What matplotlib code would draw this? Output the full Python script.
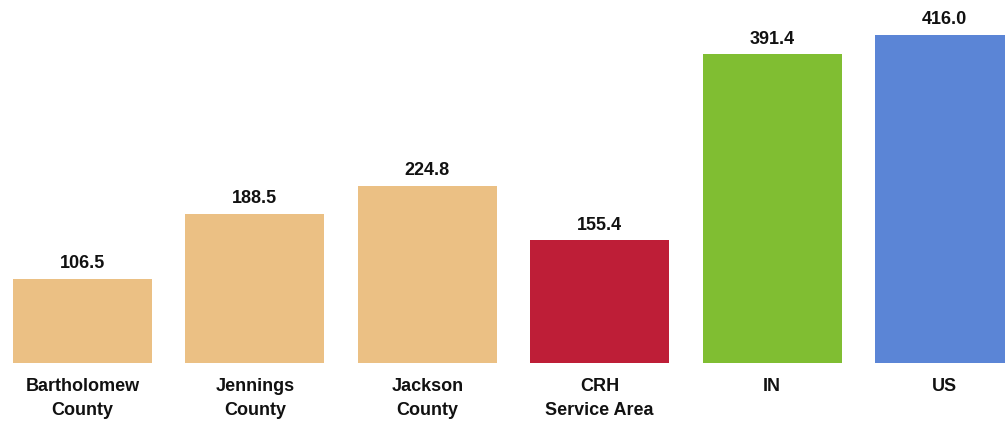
import matplotlib
matplotlib.use("Agg")
import matplotlib.pyplot as plt
from matplotlib import font_manager

categories = ["Bartholomew\nCounty", "Jennings\nCounty", "Jackson\nCounty", "CRH\nService Area", "IN", "US"]
values = [106.5, 188.5, 224.8, 155.4, 391.4, 416.0]
colors = ["#EBC084", "#EBC084", "#EBC084", "#BE1E37", "#80BE32", "#5B85D6"]

names = {f.name for f in font_manager.fontManager.ttflist}
fam = ["Liberation Sans Narrow", "Liberation Sans", "DejaVu Sans"]
fam = [f for f in fam if f in names] or ["DejaVu Sans"]
plt.rcParams["font.family"] = fam

fig = plt.figure(figsize=(10.05, 4.21), dpi=100)
ax = fig.add_axes([0, 0.1378, 1, 0.8622])
x = list(range(len(values)))
bars = ax.bar(x, values, width=0.806, color=colors)
for xi, v in zip(x, values):
    ax.annotate(f"{v:.1f}", (xi, v), xytext=(0, 5), textcoords="offset points",
                ha="center", va="bottom", fontsize=13, fontweight="bold", color="#111111")
ax.set_xlim(-0.4785, 5.351)
ax.set_ylim(0, 460.5)
ax.set_xticks(x)
ax.set_xticklabels(categories, fontsize=13, fontweight="bold", linespacing=1.55, color="#111111")
ax.tick_params(axis="x", length=0, pad=11)
ax.set_yticks([])
for s in ax.spines.values():
    s.set_visible(False)
fig.savefig("out.png", dpi=100)
